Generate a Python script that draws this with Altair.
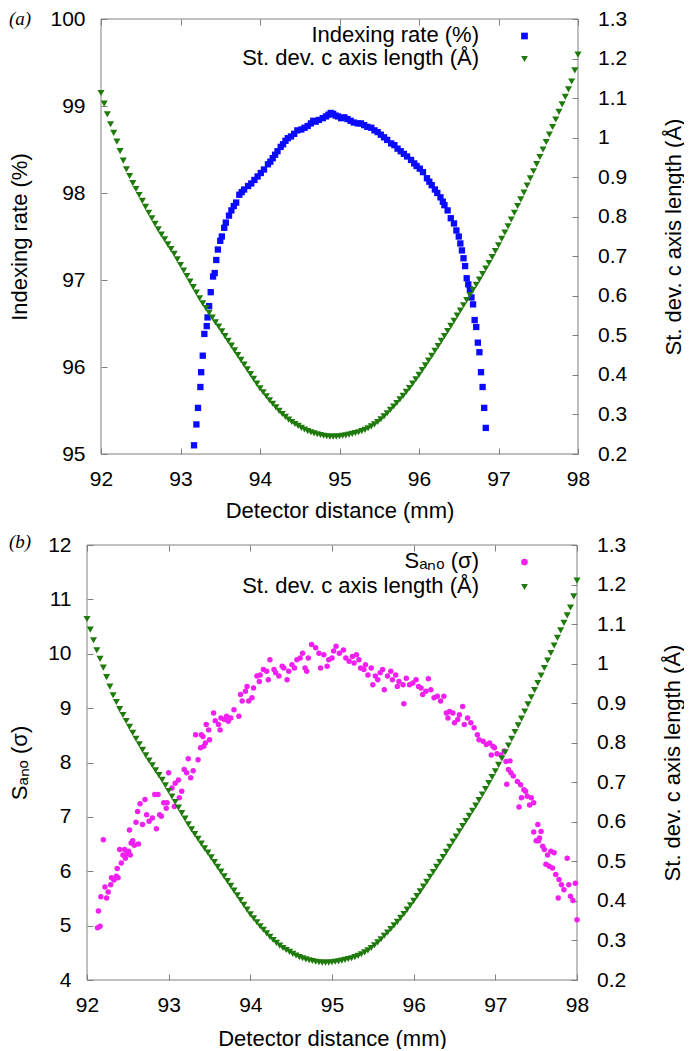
import altair as alt
import pandas as pd

# ---------------- data ----------------
x_ticks = [92, 93, 94, 95, 96, 97, 98]
rate_ticks = [95, 96, 97, 98, 99, 100]
sano_ticks = [4, 5, 6, 7, 8, 9, 10, 11, 12]
sd_ticks = [0.2, 0.3, 0.4, 0.5, 0.6, 0.7, 0.8, 0.9, 1.0, 1.1, 1.2, 1.3]

NAME_RATE = "Indexing rate (%)"
NAME_SD = "St. dev. c axis length (Å)"
NAME_SANO = "Sₐₙₒ (σ)"

# St. dev. of c axis length (same data in both panels)
green_x = [
    92.00, 92.04, 92.08, 92.12, 92.16, 92.20, 92.24, 92.28, 92.32, 92.36,
    92.40, 92.44, 92.48, 92.52, 92.56, 92.60, 92.64, 92.68, 92.72, 92.76,
    92.80, 92.84, 92.88, 92.92, 92.96, 93.00, 93.04, 93.08, 93.12, 93.16,
    93.20, 93.24, 93.28, 93.32, 93.36, 93.40, 93.44, 93.48, 93.52, 93.56,
    93.60, 93.64, 93.68, 93.72, 93.76, 93.80, 93.84, 93.88, 93.92, 93.96,
    94.00, 94.04, 94.08, 94.12, 94.16, 94.20, 94.24, 94.28, 94.32, 94.36,
    94.40, 94.44, 94.48, 94.52, 94.56, 94.60, 94.64, 94.68, 94.72, 94.76,
    94.80, 94.84, 94.88, 94.92, 94.96, 95.00, 95.04, 95.08, 95.12, 95.16,
    95.20, 95.24, 95.28, 95.32, 95.36, 95.40, 95.44, 95.48, 95.52, 95.56,
    95.60, 95.64, 95.68, 95.72, 95.76, 95.80, 95.84, 95.88, 95.92, 95.96,
    96.00, 96.04, 96.08, 96.12, 96.16, 96.20, 96.24, 96.28, 96.32, 96.36,
    96.40, 96.44, 96.48, 96.52, 96.56, 96.60, 96.64, 96.68, 96.72, 96.76,
    96.80, 96.84, 96.88, 96.92, 96.96, 97.00, 97.04, 97.08, 97.12, 97.16,
    97.20, 97.24, 97.28, 97.32, 97.36, 97.40, 97.44, 97.48, 97.52, 97.56,
    97.60, 97.64, 97.68, 97.72, 97.76, 97.80, 97.84, 97.88, 97.92, 97.96,
    98.00]
green_v = [
    1.113, 1.086, 1.059, 1.034, 1.012, 0.990, 0.966, 0.942, 0.920, 0.903,
    0.885, 0.870, 0.855, 0.840, 0.825, 0.810, 0.796, 0.782, 0.768, 0.755,
    0.743, 0.730, 0.718, 0.706, 0.692, 0.678, 0.664, 0.650, 0.636, 0.622,
    0.608, 0.594, 0.581, 0.569, 0.557, 0.545, 0.533, 0.522, 0.510, 0.498,
    0.486, 0.474, 0.462, 0.450, 0.438, 0.426, 0.414, 0.402, 0.390, 0.378,
    0.366, 0.356, 0.346, 0.336, 0.327, 0.318, 0.309, 0.301, 0.294, 0.287,
    0.281, 0.276, 0.271, 0.266, 0.262, 0.258, 0.255, 0.252, 0.250, 0.248,
    0.246, 0.245, 0.244, 0.244, 0.244, 0.245, 0.246, 0.247, 0.249, 0.251,
    0.253, 0.255, 0.258, 0.261, 0.265, 0.270, 0.275, 0.281, 0.288, 0.295,
    0.303, 0.312, 0.320, 0.329, 0.338, 0.347, 0.357, 0.367, 0.378, 0.389,
    0.400, 0.412, 0.424, 0.436, 0.448, 0.461, 0.473, 0.486, 0.498, 0.511,
    0.524, 0.537, 0.550, 0.563, 0.576, 0.589, 0.602, 0.615, 0.628, 0.641,
    0.655, 0.669, 0.683, 0.698, 0.713, 0.728, 0.744, 0.760, 0.776, 0.793,
    0.810, 0.827, 0.844, 0.861, 0.879, 0.897, 0.915, 0.933, 0.951, 0.970,
    0.989, 1.008, 1.027, 1.046, 1.065, 1.084, 1.103, 1.122, 1.142, 1.170,
    1.210]

# Indexing rate (%)
blue_x = [
    93.17, 93.20, 93.22, 93.25, 93.26, 93.28, 93.30, 93.33, 93.34, 93.36,
    93.38, 93.41, 93.43, 93.45, 93.47, 93.50, 93.52, 93.55, 93.57, 93.61,
    93.64, 93.67, 93.70, 93.74, 93.77, 93.80, 93.85, 93.89, 93.93, 93.97,
    94.01, 94.05, 94.10, 94.13, 94.16, 94.19, 94.22, 94.26, 94.29, 94.32,
    94.35, 94.39, 94.43, 94.47, 94.52, 94.56, 94.60, 94.64, 94.67, 94.70,
    94.74, 94.79, 94.83, 94.86, 94.89, 94.92, 94.95, 94.98, 95.02, 95.06,
    95.10, 95.14, 95.18, 95.23, 95.27, 95.31, 95.35, 95.40, 95.44, 95.48,
    95.52, 95.56, 95.60, 95.65, 95.69, 95.73, 95.77, 95.81, 95.85, 95.90,
    95.94, 95.97, 96.01, 96.05, 96.10, 96.13, 96.16, 96.20, 96.23, 96.27,
    96.30, 96.32, 96.36, 96.40, 96.44, 96.47, 96.50, 96.52, 96.54, 96.56,
    96.58, 96.60, 96.62, 96.64, 96.66, 96.68, 96.70, 96.72, 96.74, 96.76,
    96.78, 96.80, 96.82, 96.84]
blue_v = [
    95.10, 95.34, 95.53, 95.77, 95.94, 96.13, 96.38, 96.47, 96.57, 96.70,
    96.86, 97.04, 97.08, 97.23, 97.35, 97.45, 97.50, 97.60, 97.66, 97.74,
    97.80, 97.85, 97.89, 97.98, 98.01, 98.04, 98.08, 98.11, 98.15, 98.19,
    98.23, 98.27, 98.33, 98.36, 98.40, 98.44, 98.48, 98.53, 98.56, 98.60,
    98.63, 98.65, 98.68, 98.72, 98.73, 98.75, 98.77, 98.80, 98.83, 98.82,
    98.84, 98.86, 98.88, 98.90, 98.92, 98.91, 98.89, 98.88, 98.86, 98.87,
    98.85, 98.83, 98.81, 98.80, 98.80, 98.78, 98.76, 98.75, 98.72, 98.70,
    98.67, 98.64, 98.61, 98.57, 98.55, 98.51, 98.48, 98.45, 98.42, 98.38,
    98.34, 98.31, 98.28, 98.24, 98.17, 98.13, 98.09, 98.04, 98.00, 97.95,
    97.90, 97.86, 97.80, 97.71, 97.65, 97.57, 97.50, 97.42, 97.34, 97.25,
    97.16, 97.02, 96.95, 96.89, 96.80, 96.72, 96.54, 96.46, 96.28, 96.17,
    95.94, 95.77, 95.53, 95.30]

# S_ano (sigma)
mag_x = [
    92.13, 92.14, 92.16, 92.17, 92.20, 92.22, 92.24, 92.26, 92.29, 92.30,
    92.33, 92.36, 92.37, 92.38, 92.40, 92.42, 92.44, 92.46, 92.47, 92.49,
    92.51, 92.52, 92.53, 92.54, 92.56, 92.58, 92.60, 92.62, 92.63, 92.65,
    92.68, 92.71, 92.73, 92.76, 92.80, 92.83, 92.85, 92.87, 92.89, 92.91,
    92.94, 92.97, 92.98, 93.00, 93.04, 93.07, 93.08, 93.12, 93.13, 93.16,
    93.19, 93.22, 93.24, 93.27, 93.30, 93.33, 93.36, 93.39, 93.40, 93.42,
    93.43, 93.45, 93.46, 93.49, 93.50, 93.55, 93.57, 93.61, 93.63, 93.64,
    93.68, 93.71, 93.73, 93.76, 93.80, 93.86, 93.88, 93.90, 93.94, 93.96,
    93.98, 94.02, 94.04, 94.08, 94.11, 94.12, 94.16, 94.20, 94.22, 94.24,
    94.29, 94.31, 94.35, 94.39, 94.41, 94.45, 94.47, 94.51, 94.54, 94.57,
    94.61, 94.64, 94.67, 94.69, 94.71, 94.75, 94.80, 94.84, 94.86, 94.90,
    94.94, 94.96, 95.00, 95.02, 95.05, 95.09, 95.14, 95.17, 95.21, 95.25,
    95.27, 95.30, 95.33, 95.35, 95.39, 95.41, 95.44, 95.48, 95.50, 95.53,
    95.56, 95.59, 95.62, 95.64, 95.68, 95.72, 95.74, 95.78, 95.80, 95.82,
    95.87, 95.88, 95.91, 95.95, 95.99, 96.03, 96.06, 96.09, 96.11, 96.15,
    96.18, 96.21, 96.25, 96.29, 96.33, 96.37, 96.40, 96.42, 96.44, 96.48,
    96.50, 96.54, 96.56, 96.60, 96.62, 96.66, 96.70, 96.74, 96.78, 96.80,
    96.85, 96.89, 96.93, 96.95, 96.97, 96.99, 97.02, 97.07, 97.11, 97.13,
    97.14, 97.16, 97.18, 97.19, 97.22, 97.27, 97.29, 97.31, 97.32, 97.35,
    97.37, 97.39, 97.42, 97.44, 97.47, 97.47, 97.50, 97.52, 97.53, 97.54,
    97.56, 97.58, 97.60, 97.62, 97.64, 97.66, 97.68, 97.70, 97.72, 97.74,
    97.77, 97.78, 97.81, 97.84, 97.88, 97.90, 97.92, 97.95, 97.98, 98.00]
mag_v = [
    4.96, 5.27, 4.99, 5.53, 6.58, 5.71, 5.51, 5.62, 5.75, 5.88,
    5.84, 5.91, 6.05, 5.88, 6.40, 6.15, 6.30, 6.40, 6.24, 6.32,
    6.37, 6.76, 6.30, 6.52, 6.56, 6.48, 6.90, 7.10, 6.50, 7.24,
    6.86, 7.32, 7.04, 6.92, 6.98, 7.41, 6.78, 7.41, 7.04, 7.01,
    7.26, 7.16, 7.26, 7.81, 7.53, 7.19, 7.62, 7.68, 7.35, 7.47,
    7.87, 7.81, 8.07, 7.72, 7.85, 8.51, 8.05, 8.27, 8.51, 8.48,
    8.30, 8.36, 8.70, 8.60, 8.42, 8.91, 8.77, 8.70, 8.60, 8.82,
    8.79, 8.85, 8.76, 8.82, 8.97, 8.85, 9.25, 9.13, 9.31, 9.40,
    9.13, 9.19, 9.37, 9.59, 9.49, 9.61, 9.71, 9.68, 9.52, 9.89,
    9.71, 9.65, 9.59, 9.77, 9.74, 9.52, 9.68, 9.80, 9.74, 9.89,
    9.92, 10.01, 9.74, 9.68, 9.92, 10.17, 10.11, 10.01, 9.74, 9.98,
    9.77, 9.89, 9.92, 10.05, 10.14, 10.01, 10.07, 9.92, 9.86, 9.95,
    9.83, 9.98, 9.89, 9.74, 9.71, 9.80, 9.61, 9.74, 9.43, 9.59,
    9.52, 9.65, 9.71, 9.34, 9.59, 9.68, 9.52, 9.61, 9.40, 9.49,
    9.43, 9.08, 9.55, 9.43, 9.46, 9.52, 9.40, 9.37, 9.25, 9.31,
    9.54, 9.34, 9.19, 9.22, 9.13, 9.22, 8.91, 8.82, 8.94, 8.91,
    8.73, 8.79, 8.88, 9.03, 8.70, 8.82, 8.73, 8.64, 8.51, 8.42,
    8.39, 8.33, 8.36, 8.14, 8.30, 8.27, 8.16, 8.14, 8.21, 8.02,
    7.60, 7.87, 8.03, 7.81, 7.75, 7.65, 7.18, 7.59, 7.35, 7.50,
    7.47, 7.38, 7.22, 7.35, 7.26, 6.72, 6.56, 6.86, 6.56, 6.61,
    6.73, 6.46, 6.40, 6.13, 6.30, 6.09, 6.37, 6.06, 6.34, 5.94,
    5.51, 5.85, 5.75, 5.66, 6.24, 5.75, 5.54, 5.46, 5.78, 5.11]

# ---------------- style ----------------
FONT = "Liberation Sans"
BORDER = "#808080"
BLUE = "#0a0aff"
GREEN = "#1f7a0c"
MAGENTA = "#f020f0"
TICK = 6
H = 435

df_green = pd.DataFrame({"x": green_x, "v": green_v, "series": NAME_SD})
df_blue = pd.DataFrame({"x": blue_x, "v": blue_v, "series": NAME_RATE})
df_mag = pd.DataFrame({"x": mag_x, "v": mag_v, "series": NAME_SANO})
df_one = pd.DataFrame({"k": [0]})


def key_text(label, y):
    # legend key label (gnuplot style: text to the left of the symbol)
    return alt.Chart(pd.DataFrame({"t": [label]})).mark_text(
        font=FONT, fontSize=22, align="right", baseline="middle", color="black"
    ).encode(x=alt.value(392), y=alt.value(y), text="t:N")


def panel(df_main, name_main, color_main, shape_main, size_main, left_dom,
          left_vals, left_title, x0, w, tag, tag_dy, row_pad, key_rows, title_y):
    # x0: left inset of the plot frame inside the panel group
    gw = x0 + w
    xs = alt.Scale(domain=[92, 98], nice=False, zero=False, range=[x0, gw])
    ys_left = alt.Scale(domain=left_dom, nice=False, zero=False)
    ys_right = alt.Scale(domain=[0.2, 1.3], nice=False, zero=False)
    names = [name_main, NAME_SD]
    leg = alt.Legend(title=None, orient="none", legendX=426.5, legendY=6,
                     labelAlign="right", labelOffset=0, symbolOffset=0,
                     labelOpacity=0, labelLimit=1,
                     labelFont=FONT, labelFontSize=22, labelColor="black",
                     symbolSize=45, rowPadding=row_pad, padding=0,
                     labelBaseline="middle")
    color = alt.Color("series:N", scale=alt.Scale(domain=names, range=[color_main, GREEN]), legend=leg)
    shape = alt.Shape("series:N", scale=alt.Scale(domain=names, range=[shape_main, "triangle-down"]), legend=leg)

    frame = alt.Chart(df_one).mark_rect(filled=False, stroke=BORDER, strokeWidth=1).encode(
        x=alt.X(datum=92, scale=xs, axis=None),
        x2=alt.X2(datum=98),
        y=alt.Y(datum=left_dom[0], scale=ys_left, axis=None),
        y2=alt.Y2(datum=left_dom[1]))

    main = alt.Chart(df_main).mark_point(filled=True, opacity=1, size=size_main).encode(
        x=alt.X("x:Q", scale=xs,
                axis=alt.Axis(orient="bottom", values=x_ticks, format="d", offset=-TICK,
                              tickSize=TICK, labelPadding=14,
                              title="Detector distance (mm)", titleX=x0 + w / 2, titleY=title_y,
                              titleBaseline="top", titleAlign="center")),
        y=alt.Y("v:Q", scale=ys_left,
                axis=alt.Axis(orient="left", values=left_vals, format="d",
                              offset=-(x0 + TICK), tickSize=TICK, labelPadding=16,
                              title=left_title, titleAngle=270, titleBaseline="top",
                              titleAlign="center", titleX=-78 - (x0 + TICK), titleY=H / 2)),
        color=color, shape=shape)

    green = alt.Chart(df_green).mark_point(filled=True, opacity=1, size=50).encode(
        x=alt.X("x:Q", scale=xs,
                axis=alt.Axis(orient="top", values=x_ticks, labels=False, title=None,
                              offset=-TICK, tickSize=TICK)),
        y=alt.Y("v:Q", scale=ys_right,
                axis=alt.Axis(orient="right", values=sd_ticks, format="~g", offset=-TICK,
                              tickSize=TICK, labelPadding=19.5, title=NAME_SD,
                              titleAngle=270, titleBaseline="top", titleAlign="center",
                              titleX=91, titleY=H / 2)),
        color=color, shape=shape)

    tag_layer = alt.Chart(pd.DataFrame({"t": [tag]})).mark_text(
        font="Liberation Serif", fontStyle="italic", fontSize=19, align="left",
        baseline="middle", color="black").encode(
        x=alt.value(-78), y=alt.value(tag_dy), text="t:N")

    k1 = key_text(name_main, key_rows[0])
    k2 = key_text(NAME_SD, key_rows[1])

    return (alt.layer(frame, main, green, tag_layer, k1, k2)
            .resolve_scale(y="independent")
            .resolve_axis(x="independent", y="independent")
            .properties(width=gw, height=H))


pa = panel(df_blue, NAME_RATE, BLUE, "square", 40, [95, 100], rate_ticks,
           "Indexing rate (%)", 14, 477, "(a)", 0, 1, (16, 39), 52.5)
pb = panel(df_mag, NAME_SANO, MAGENTA, "circle", 30, [4, 12], sano_ticks,
           NAME_SANO, 0, 490, "(b)", -3, 3, (16, 41), 54)

chart = (alt.concat(pa, pb, columns=1, spacing=11, padding=0)
         .resolve_scale(color="independent", shape="independent")
         .configure(font=FONT)
         .configure_view(strokeWidth=0)
         .configure_axis(grid=False, domain=False, labelFont=FONT, labelFontSize=21,
                         labelColor="black", tickColor=BORDER, tickWidth=1,
                         titleFont=FONT, titleFontSize=22, titleFontWeight="normal",
                         titleColor="black", labelFlush=False, labelOverlap=False,
                         minExtent=0))

chart.save("out.html", embed_options={"renderer": "svg", "actions": False})
